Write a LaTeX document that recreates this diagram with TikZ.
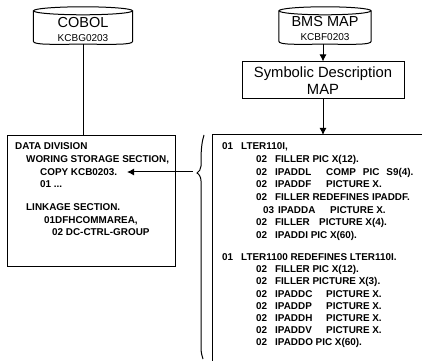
\documentclass[tikz,border=0pt]{standalone}
\usepackage{fontspec}
\setmainfont{Liberation Sans}
\usetikzlibrary{arrows.meta}
\newcommand{\lvl}[1]{\makebox[19pt][l]{#1}}
\newcommand{\fld}[1]{\makebox[51pt][l]{#1}}
% outline of a disk round a named node
\newcommand{\dskshape}[2]{%
  \draw[line width=1pt,fill=white] ([yshift=-4pt]#1.north west) -- ([yshift=3pt]#1.south west)
    .. controls ([yshift=-1pt]#1.south west) and ([xshift=-#2*0.6pt]#1.south) .. (#1.south)
    .. controls ([xshift=#2*0.6pt]#1.south) and ([yshift=-1pt]#1.south east) .. ([yshift=3pt]#1.south east)
    -- ([yshift=-4pt]#1.north east);
  \draw[line width=1pt,fill=white] ([yshift=-4pt]#1.north) ellipse ({#2pt} and 4pt);}
\tikzset{
  dsk/.style={minimum height=37pt,inner sep=0pt},
  descbox/.style={draw,line width=1pt,minimum width=162pt,minimum height=37pt,align=center,font=\fontsize{14.8}{17}\selectfont},
  listbox/.style={draw,line width=1pt,anchor=north west},
  titletxt/.style={font=\fontsize{14.5}{15}\selectfont},
  idtxt/.style={font=\fontsize{10}{10}\selectfont},
  codetxt/.style={anchor=north west,align=left,inner sep=0pt,font=\fontsize{9.9}{12.7}\selectfont\bfseries},
  flow/.style={line width=1pt,-{Latex[length=7pt,width=7pt]}}
}
\begin{document}
\begin{tikzpicture}[x=1pt,y=1pt]
\useasboundingbox (0,0) rectangle (422,361);
% top row
\node[dsk,minimum width=99pt] (cobol) at (83,335.5) {};
\dskshape{cobol}{49.5}
\node[titletxt] (cobolname) at (83,338) {COBOL};
\node[idtxt] (cobolid) at (83,323) {KCBG0203};
\node[dsk,minimum width=92pt] (bms) at (325,335.5) {};
\dskshape{bms}{46}
\node[titletxt] (bmsname) at (325,339) {BMS MAP};
\node[idtxt] (bmsid) at (325,324) {KCBF0203};
\node[descbox] (symb) at (323,280.5) {Symbolic Description\\MAP};
% lower boxes
\node[listbox,minimum width=168pt,minimum height=131pt] (data) at (7,226) {};
\node[codetxt] (datatxt) at (15,218.5) {DATA DIVISION\\
\hspace*{11pt}WORING STORAGE SECTION,\\
\hspace*{25pt}COPY KCB0203.\\
\hspace*{25pt}01 ...\\[10pt]
\hspace*{11pt}LINKAGE SECTION.\\
\hspace*{29pt}01DFHCOMMAREA,\\
\hspace*{37pt}02 DC-CTRL-GROUP};
\coordinate (bracetip) at (197,188);
\coordinate (copystart) at (193,189);
\coordinate (copyend) at (127,189);
\draw[line width=1pt] (204,226) .. controls (202,220) and (201,212) .. (201,200) -- (201,195) .. controls (201,192) and (199,189) .. (bracetip) .. controls (199,187) and (201,184) .. (201,180) -- (201,14) .. controls (201,8) and (202,5) .. (203,2);
\draw[line width=1pt] (422,226) -- (212,226) -- (212,0);
\node[codetxt] (map1) at (222,218.5) {\lvl{01}LTER110I,\\
\hspace*{34pt}\lvl{02}FILLER PIC X(12).\\
\hspace*{34pt}\lvl{02}\fld{IPADDL}COMP\hspace{7pt}PIC\hspace{7pt}S9(4).\\
\hspace*{34pt}\lvl{02}\fld{IPADDF}PICTURE X.\\
\hspace*{34pt}\lvl{02}FILLER REDEFINES IPADDF.\\
\hspace*{41pt}\makebox[15pt][l]{03}\makebox[52pt][l]{IPADDA}PICTURE X.\\
\hspace*{34pt}\lvl{02}\makebox[44pt][l]{FILLER}PICTURE X(4).\\
\hspace*{34pt}\lvl{02}IPADDI PIC X(60).};
\node[codetxt,font=\fontsize{9.9}{12.15}\selectfont\bfseries] (map2) at (222,107.5) {\lvl{01}LTER1100 REDEFINES LTER110I.\\
\hspace*{34pt}\lvl{02}FILLER PIC X(12).\\
\hspace*{34pt}\lvl{02}FILLER PICTURE X(3).\\
\hspace*{34pt}\lvl{02}\fld{IPADDC}PICTURE X.\\
\hspace*{34pt}\lvl{02}\fld{IPADDP}PICTURE X.\\
\hspace*{34pt}\lvl{02}\fld{IPADDH}PICTURE X.\\
\hspace*{34pt}\lvl{02}\fld{IPADDV}PICTURE X.\\
\hspace*{34pt}\lvl{02}IPADDO PIC X(60).};
% connectors
\draw[line width=1pt] (cobol.south) -- (cobol.south |- data.north);
\draw[flow] (bms.south -| symb.north) -- (symb.north);
\coordinate (listtop) at (323,226);
\draw[flow] (symb.south) -- (listtop);
\draw[flow] (copystart) -- (copyend);
\end{tikzpicture}
\end{document}
